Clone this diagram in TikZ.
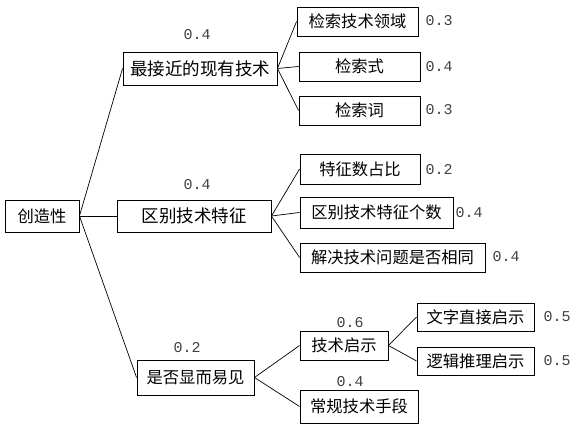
\documentclass[tikz,border=0pt]{standalone}
\usepackage{fontspec}
\newfontfamily\cjk{Noto Sans CJK SC}
\newfontfamily\numfont{Liberation Mono}
\begin{document}
\begin{tikzpicture}[x=1pt,y=1pt,
  box/.style={draw, line width=0.9pt, rectangle, inner sep=0pt, font=\cjk\fontsize{16.3}{18}\selectfont},
  bigbox/.style={box, font=\cjk\fontsize{17.5}{20}\selectfont},
  num/.style={inner sep=0pt, text=black!75, font=\numfont\fontsize{15}{17}\selectfont},
  link/.style={line width=0.7pt}]
\useasboundingbox (0,0) rectangle (585,430);
% level 1
\node[box, minimum width=74, minimum height=32] (root) at (42,214) {创造性};
% level 2
\node[bigbox, minimum width=154, minimum height=33] (n1) at (200,361.5) {最接近的现有技术};
\node[bigbox, minimum width=154, minimum height=32] (n2) at (194,214) {区别技术特征};
\node[box, minimum width=117, minimum height=35] (n3) at (195.5,52.5) {是否显而易见};
% level 3
\node[box, minimum width=121, minimum height=29] (a1) at (357.5,408.5) {检索技术领域};
\node[box, minimum width=121, minimum height=29] (a2) at (359.5,363.5) {检索式};
\node[box, minimum width=121, minimum height=29] (a3) at (359.5,319.5) {检索词};
\node[box, minimum width=120, minimum height=30] (b1) at (360,261) {特征数占比};
\node[box, minimum width=153, minimum height=31] (b2) at (376.5,217.5) {区别技术特征个数};
\node[box, minimum width=185, minimum height=29] (b3) at (392.5,172.5) {解决技术问题是否相同};
\node[box, minimum width=88, minimum height=29] (c1) at (344,84.5) {技术启示};
\node[box, minimum width=118, minimum height=33] (c2) at (359,23.5) {常规技术手段};
% level 4
\node[box, minimum width=117, minimum height=28] (d1) at (475.5,113) {文字直接启示};
\node[box, minimum width=117, minimum height=28] (d2) at (475.5,69) {逻辑推理启示};
% weights
\node[num] (w1) at (197,395) {0.4};
\node[num] (w2) at (197,245) {0.4};
\node[num] (w3) at (187,82) {0.2};
\node[num] (wa1) at (439,409) {0.3};
\node[num] (wa2) at (439,363) {0.4};
\node[num] (wa3) at (439,320) {0.3};
\node[num] (wb1) at (439,260) {0.2};
\node[num] (wb2) at (469,217) {0.4};
\node[num] (wb3) at (506,173) {0.4};
\node[num] (wc1) at (350,107) {0.6};
\node[num] (wc2) at (350,48) {0.4};
\node[num] (wd1) at (557,113) {0.5};
\node[num] (wd2) at (557,69) {0.5};
% connectors
\draw[link] (root.east) -- (n1.west);
\draw[link] (root.east) -- (n2.west);
\draw[link] (root.east) -- (n3.west);
\draw[link] (n1.east) -- (a1.west);
\draw[link] (n1.east) -- (a2.west);
\draw[link] (n1.east) -- (a3.west);
\draw[link] (n2.east) -- (b1.west);
\draw[link] (n2.east) -- (b2.west);
\draw[link] (n2.east) -- (b3.west);
\draw[link] (n3.east) -- (c1.west);
\draw[link] (n3.east) -- (c2.west);
\draw[link] (c1.east) -- (d1.west);
\draw[link] (c1.east) -- (d2.west);
\end{tikzpicture}
\end{document}
